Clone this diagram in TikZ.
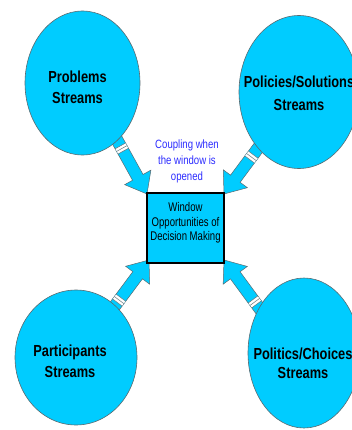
\documentclass[tikz,border=0pt]{standalone}
\usepackage{fontspec}
\setmainfont{Liberation Sans}
\newfontfamily\narrowf[FakeStretch=0.8]{Liberation Sans}
\newfontfamily\narrowbox[FakeStretch=0.76]{Liberation Sans}
\usetikzlibrary{shapes.geometric}

\definecolor{streamfill}{HTML}{00CCFF}
\definecolor{coupleblue}{HTML}{2B2BFF}
\definecolor{edgegray}{HTML}{5A6A70}

\tikzset{
  streamell/.style={ellipse, draw=edgegray, line width=0.6pt, fill=streamfill, inner sep=0pt},
  blockarr/.style={draw=edgegray, line width=0.5pt, fill=streamfill, line join=miter},
  stripeline/.style={draw=edgegray, line width=0.45pt},
  windowbox/.style={draw=black, line width=2.4pt, fill=streamfill, inner sep=0pt,
                    minimum width=76.6pt, minimum height=69.6pt},
  streamtxt/.style={font=\narrowf\bfseries\fontsize{16}{19}\selectfont, anchor=base, inner sep=0pt, text=black},
  boxtxt/.style={font=\narrowbox\fontsize{12.6}{15}\selectfont, anchor=base, inner sep=0pt, text=black},
  coupletxt/.style={font=\narrowf\fontsize{12}{15}\selectfont, anchor=base, inner sep=0pt, text=coupleblue},
}

% #1 tip coordinate, #2 direction angle from tip towards tail, #3 stripe distance from tip
\newcommand{\blockarrow}[3]{%
  \begin{scope}[shift={(#1)}, rotate=#2]
    \path[blockarr] (0,0) -- (19,15) -- (19,6) -- (#3+24,6) -- (#3+24,-6) -- (19,-6) -- (19,-15) -- cycle;
    \fill[white] (#3-3,-5.75) rectangle (#3+3,5.75);
    \draw[stripeline] (#3-3,-6) -- (#3-3,6) (#3,-6) -- (#3,6) (#3+3,-6) -- (#3+3,6);
  \end{scope}}

\begin{document}
\begin{tikzpicture}[x=1pt, y=1pt]
  \useasboundingbox (0,0) rectangle (351,-430);

  % arrow tips (hidden under the window box corners)
  \coordinate (tipprob) at (147,-194);
  \coordinate (tippol)  at (224,-194);
  \coordinate (tippart) at (149,-260);
  \coordinate (tippolit) at (224,-260);

  \blockarrow{tipprob}{119}{52}
  \blockarrow{tippol}{53.4}{46}
  \blockarrow{tippart}{233.3}{50}
  \blockarrow{tippolit}{306.3}{52}

  % stream ellipses
  \node[streamell, minimum width=115pt, minimum height=144pt] (prob) at (82.5,-83) {};
  \node[streamell, minimum width=120pt, minimum height=153pt] (pol) at (299,-92) {};
  \node[streamell, minimum width=122pt, minimum height=135pt] (part) at (76,-357.5) {};
  \node[streamell, minimum width=112pt, minimum height=150pt] (polit) at (304,-353) {};

  % window box
  \node[windowbox] (win) at (185.5,-228) {};

  % stream labels
  \node[streamtxt] (probA) at (77.5,-83) {Problems};
  \node[streamtxt] (probB) at (77.5,-104) {Streams};
  \node[streamtxt] (polA) at (299,-88) {Policies/Solutions};
  \node[streamtxt] (polB) at (299,-111) {Streams};
  \node[streamtxt] (partA) at (70,-356) {Participants};
  \node[streamtxt] (partB) at (70,-377) {Streams};
  \node[streamtxt] (politA) at (303,-359) {Politics/Choices};
  \node[streamtxt] (politB) at (303,-378) {Streams};

  % coupling text
  \node[coupletxt] (cpA) at (187,-149) {Coupling when};
  \node[coupletxt] (cpB) at (187,-165) {the window is};
  \node[coupletxt] (cpC) at (187,-181) {opened};

  % window text
  \node[boxtxt] (wA) at (185.5,-211.5) {Window};
  \node[boxtxt] (wB) at (185.5,-226) {Opportunities of};
  \node[boxtxt] (wC) at (185.5,-240.5) {Decision Making};
\end{tikzpicture}
\end{document}
